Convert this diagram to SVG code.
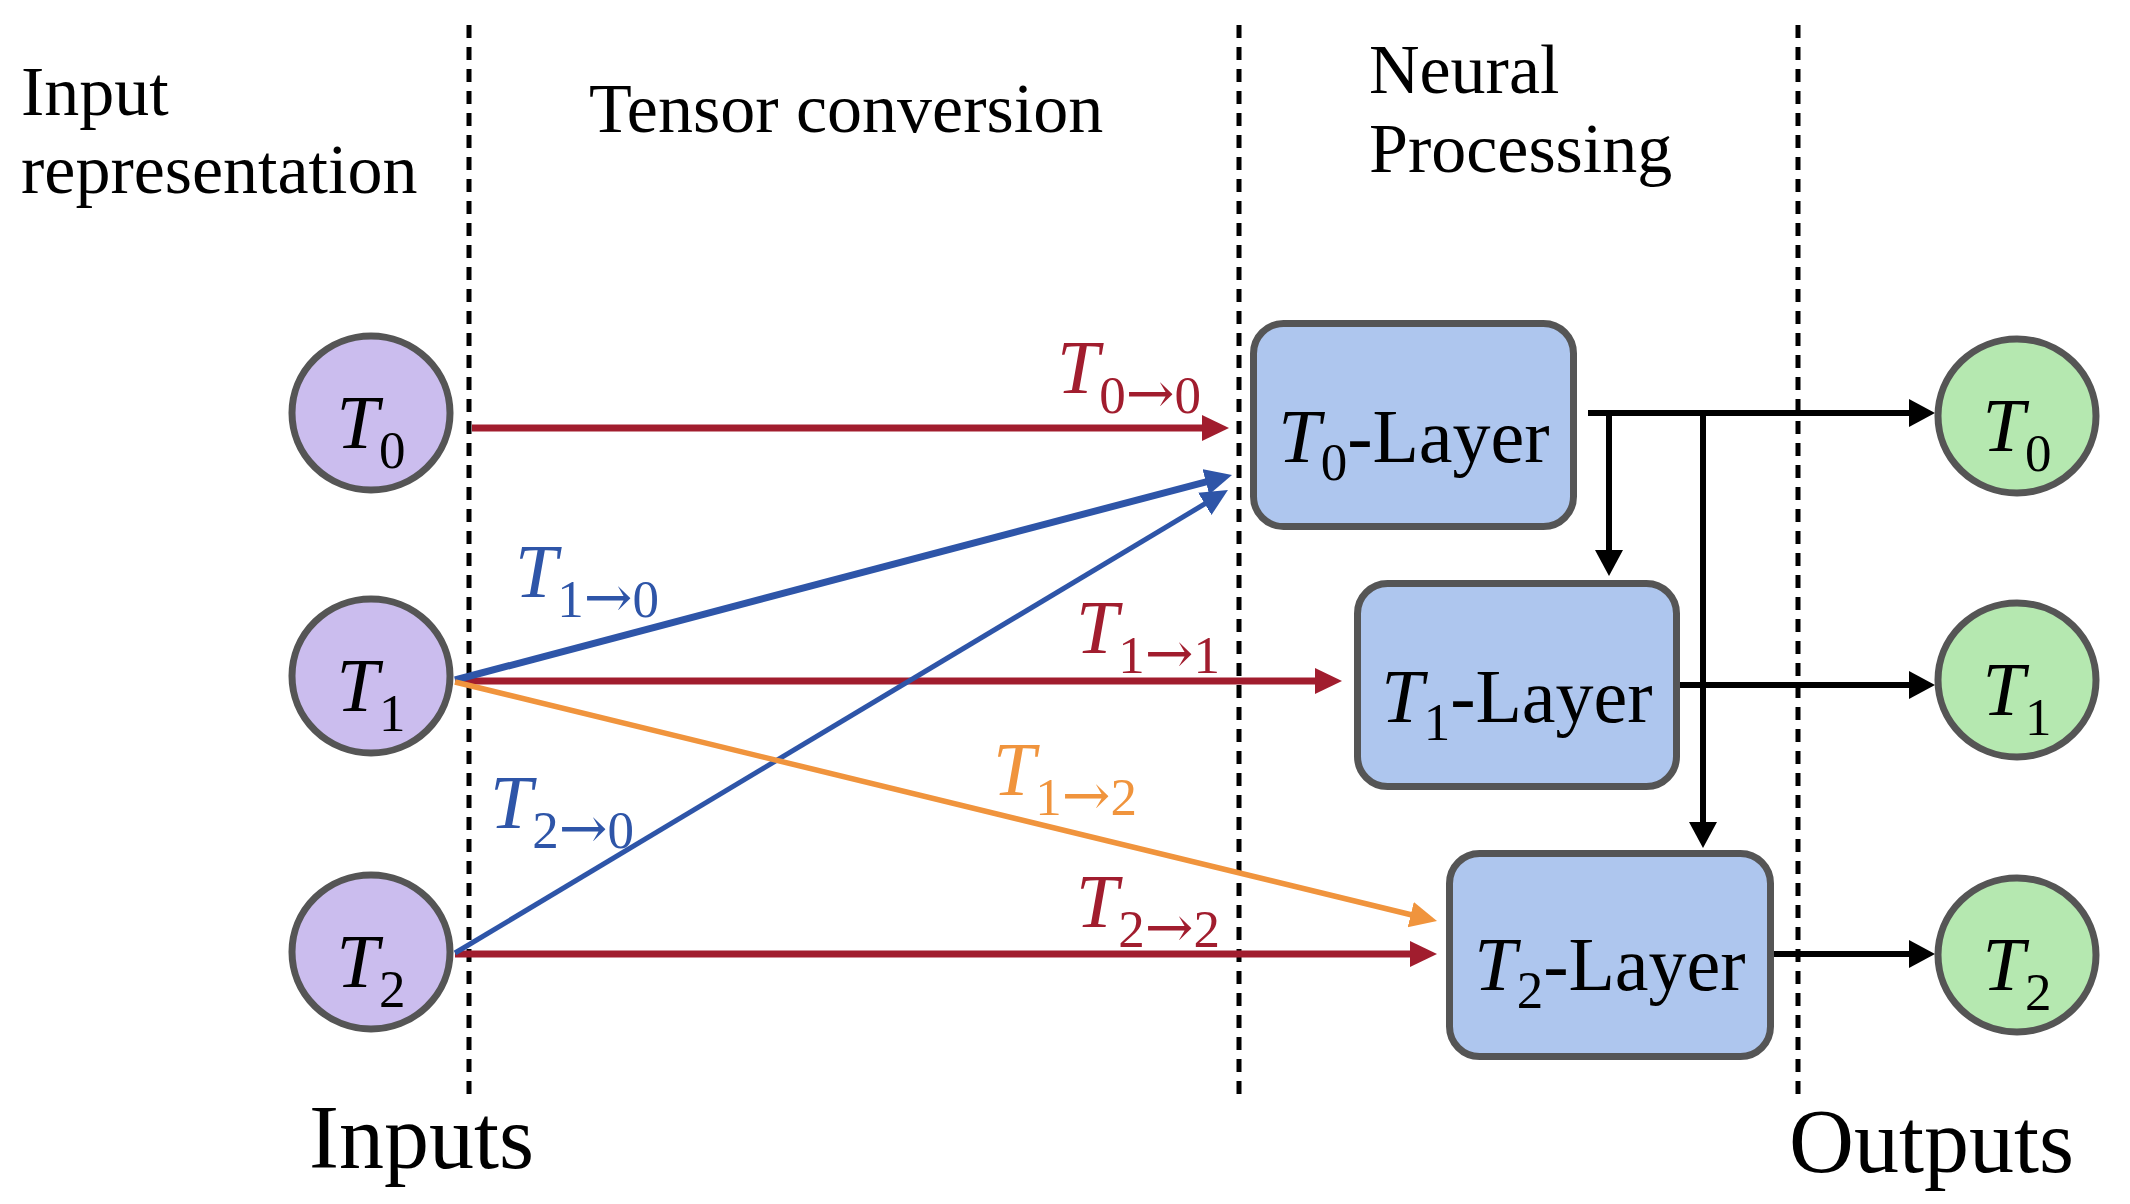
<svg xmlns="http://www.w3.org/2000/svg" width="2130" height="1204" viewBox="0 0 2130 1204">
<style>
text{font-family:"Liberation Serif","Times New Roman",serif;fill:#000}
.hdr{font-size:70px}
.big{font-size:90px}
.lbl{font-size:76px}
.it{font-style:italic}
.sub{font-size:53px}
.ar{font-family:"DejaVu Serif",serif;font-size:58px}
.div{stroke:#000;stroke-width:5;stroke-dasharray:13 9;fill:none}
.in{fill:#cbbdee;stroke:#555;stroke-width:7}
.out{fill:#b5e8b0;stroke:#555;stroke-width:7}
.box{fill:#aec6ee;stroke:#555;stroke-width:7}
.c{fill:none}
.red{stroke:#a11d2e}
.blue{stroke:#2e55a8}
.orange{stroke:#f0943d}
.blk{stroke:#000;stroke-width:6}
</style>
<defs>
<marker id="mr" markerUnits="userSpaceOnUse" markerWidth="28" markerHeight="28" refX="12" refY="13" orient="auto"><path d="M0,0 L27,13 L0,26 z" fill="#a11d2e"/></marker>
<marker id="mb" markerUnits="userSpaceOnUse" markerWidth="28" markerHeight="28" refX="12" refY="13" orient="auto"><path d="M0,0 L27,13 L0,26 z" fill="#2e55a8"/></marker>
<marker id="mo" markerUnits="userSpaceOnUse" markerWidth="28" markerHeight="28" refX="12" refY="13" orient="auto"><path d="M0,0 L27,13 L0,26 z" fill="#f0943d"/></marker>
<marker id="mk" markerUnits="userSpaceOnUse" markerWidth="28" markerHeight="30" refX="11" refY="14" orient="auto"><path d="M0,0 L26,14 L0,28 z" fill="#000"/></marker>
</defs>
<rect width="2130" height="1204" fill="#fff"/>
<g id="headers">
<text class="hdr" x="21" y="115">Input</text>
<text class="hdr" x="21" y="193">representation</text>
<text class="hdr" x="589" y="132">Tensor conversion</text>
<text class="hdr" x="1369" y="93">Neural</text>
<text class="hdr" x="1369" y="172">Processing</text>
<text class="big" x="309" y="1168">Inputs</text>
<text class="big" x="1789" y="1172">Outputs</text>
</g>
<g id="dividers">
<line class="div" x1="469" y1="25" x2="469" y2="1098"/>
<line class="div" x1="1239" y1="25" x2="1239" y2="1098"/>
<line class="div" x1="1798" y1="25" x2="1798" y2="1098"/>
</g>
<g id="connectors">
<path class="c red" stroke-width="7" d="M472,428 H1214" marker-end="url(#mr)"/>
<path class="c red" stroke-width="7" d="M455,681 H1327" marker-end="url(#mr)"/>
<path class="c red" stroke-width="7" d="M455,954 H1422" marker-end="url(#mr)"/>
<path class="c blue" stroke-width="7" d="M455,680 L1217.5,478.8" marker-end="url(#mb)"/>
<path class="c blue" stroke-width="5" d="M455,953 L1215.1,497.7" marker-end="url(#mb)"/>
<path class="c orange" stroke-width="5.5" d="M455,682 L1422.4,917.5" marker-end="url(#mo)"/>
<path class="c blk" d="M1588,413 H1920" marker-end="url(#mk)"/>
<path class="c blk" d="M1609,413 V561" marker-end="url(#mk)"/>
<path class="c blk" d="M1703,413 V833" marker-end="url(#mk)"/>
<path class="c blk" d="M1680,685 H1920" marker-end="url(#mk)"/>
<path class="c blk" d="M1772,954 H1920" marker-end="url(#mk)"/>
<text class="lbl" x="1057" y="393" style="fill:#a11d2e"><tspan class="it">T</tspan><tspan class="sub" dy="20">0</tspan><tspan class="ar">→</tspan><tspan class="sub">0</tspan></text>
<text class="lbl" x="515" y="597" style="fill:#2e55a8"><tspan class="it">T</tspan><tspan class="sub" dy="20">1</tspan><tspan class="ar">→</tspan><tspan class="sub">0</tspan></text>
<text class="lbl" x="1076" y="653" style="fill:#a11d2e"><tspan class="it">T</tspan><tspan class="sub" dy="20">1</tspan><tspan class="ar">→</tspan><tspan class="sub">1</tspan></text>
<text class="lbl" x="993" y="795" style="fill:#f0943d"><tspan class="it">T</tspan><tspan class="sub" dy="20">1</tspan><tspan class="ar">→</tspan><tspan class="sub">2</tspan></text>
<text class="lbl" x="490" y="828" style="fill:#2e55a8"><tspan class="it">T</tspan><tspan class="sub" dy="20">2</tspan><tspan class="ar">→</tspan><tspan class="sub">0</tspan></text>
<text class="lbl" x="1076" y="927" style="fill:#a11d2e"><tspan class="it">T</tspan><tspan class="sub" dy="20">2</tspan><tspan class="ar">→</tspan><tspan class="sub">2</tspan></text>
</g>
<g id="in0"><ellipse class="in" cx="371" cy="413" rx="79" ry="77"/><text class="lbl" x="371" y="448" text-anchor="middle"><tspan class="it">T</tspan><tspan class="sub" dy="20">0</tspan></text></g>
<g id="in1"><ellipse class="in" cx="371" cy="676" rx="79" ry="77"/><text class="lbl" x="371" y="711" text-anchor="middle"><tspan class="it">T</tspan><tspan class="sub" dy="20">1</tspan></text></g>
<g id="in2"><ellipse class="in" cx="371" cy="952" rx="79" ry="77"/><text class="lbl" x="371" y="987" text-anchor="middle"><tspan class="it">T</tspan><tspan class="sub" dy="20">2</tspan></text></g>
<g id="layer0"><rect class="box" x="1253.5" y="323.5" width="320" height="203" rx="30"/><text class="lbl" x="1414" y="462" text-anchor="middle"><tspan class="it">T</tspan><tspan class="sub" dy="18">0</tspan><tspan dy="-18">-Layer</tspan></text></g>
<g id="layer1"><rect class="box" x="1357.5" y="583.5" width="319" height="203" rx="30"/><text class="lbl" x="1517" y="722" text-anchor="middle"><tspan class="it">T</tspan><tspan class="sub" dy="18">1</tspan><tspan dy="-18">-Layer</tspan></text></g>
<g id="layer2"><rect class="box" x="1449.5" y="853.5" width="321" height="203" rx="30"/><text class="lbl" x="1610" y="990" text-anchor="middle"><tspan class="it">T</tspan><tspan class="sub" dy="18">2</tspan><tspan dy="-18">-Layer</tspan></text></g>
<g id="out0"><ellipse class="out" cx="2017" cy="416" rx="79" ry="77"/><text class="lbl" x="2017" y="451" text-anchor="middle"><tspan class="it">T</tspan><tspan class="sub" dy="20">0</tspan></text></g>
<g id="out1"><ellipse class="out" cx="2017" cy="680" rx="79" ry="77"/><text class="lbl" x="2017" y="715" text-anchor="middle"><tspan class="it">T</tspan><tspan class="sub" dy="20">1</tspan></text></g>
<g id="out2"><ellipse class="out" cx="2017" cy="955" rx="79" ry="77"/><text class="lbl" x="2017" y="990" text-anchor="middle"><tspan class="it">T</tspan><tspan class="sub" dy="20">2</tspan></text></g>
</svg>
